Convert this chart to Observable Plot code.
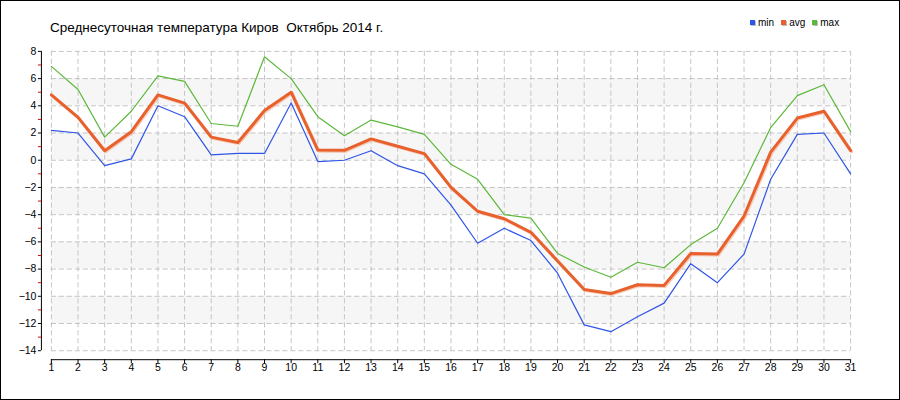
<!DOCTYPE html>
<html>
<head>
<meta charset="utf-8">
<script src="https://cdn.jsdelivr.net/npm/d3@7"></script>
<script src="https://cdn.jsdelivr.net/npm/@observablehq/plot@0.6"></script>
<style>
  html, body { margin: 0; padding: 0; background: #fff; }
  #frame { position: relative; width: 898px; height: 398px; border: 1px solid #000; overflow: hidden; background: #fff; }
  #title { position: absolute; left: 49px; top: 19px; font: 13.5px "Liberation Sans", Arial, sans-serif; color: #000; white-space: pre; }
  #legend { position: absolute; left: 749px; top: 16px; font: 10px "Liberation Sans", Arial, sans-serif; color: #000; display: flex; gap: 0; }
  #legend span.item { display: inline-flex; align-items: center; margin-right: 7px; }
  #legend span.sw { display: inline-block; width: 5px; height: 5px; margin-right: 3px; box-shadow: 1px 1px 0 #bbb; }
  #chart { position: absolute; left: 0; top: 0; }
</style>
</head>
<body>
<div id="frame">
  <div id="chart"></div>
  <div id="title"></div>
  <div id="legend"></div>
</div>
<script>
const titleText = "Среднесуточная температура Киров  Октябрь 2014 г.";
const days = [1,2,3,4,5,6,7,8,9,10,11,12,13,14,15,16,17,18,19,20,21,22,23,24,25,26,27,28,29,30,31];
const minT = [2.2,2.0,-0.4,0.1,4.0,3.2,0.4,0.5,0.5,4.2,-0.1,0.0,0.7,-0.4,-1.0,-3.3,-6.1,-5.0,-5.9,-8.3,-12.1,-12.6,-11.5,-10.5,-7.6,-9.0,-6.9,-1.4,1.9,2.0,-1.0];
const avgT = [4.8,3.15,0.7,2.1,4.8,4.2,1.7,1.3,3.65,5.0,0.75,0.73,1.57,1.03,0.49,-2.0,-3.75,-4.3,-5.3,-7.4,-9.5,-9.8,-9.15,-9.2,-6.85,-6.9,-4.1,0.6,3.1,3.6,0.7];
const maxT = [6.9,5.2,1.7,3.6,6.2,5.8,2.7,2.5,7.6,6.0,3.2,1.8,2.95,2.45,1.9,-0.3,-1.4,-4.0,-4.25,-6.85,-7.85,-8.6,-7.5,-7.9,-6.2,-5.0,-1.65,2.4,4.75,5.55,2.1];
const yTicks = [8,6,4,2,0,-2,-4,-6,-8,-10,-12,-14];
const yMinorTicks = [7,5,3,1,-1,-3,-5,-7,-9,-11,-13];
const bandLows = [4,0,-4,-8,-12];
const seriesNames = ["min","avg","max"];
const seriesColors = ["#2f55e6","#e8602c","#5cb83a"];

const data = days.map((d, i) => ({day: d, min: minT[i], avg: avgT[i], max: maxT[i]}));
const dayFirst = days[0], dayLast = days[days.length - 1];

document.getElementById("title").textContent = titleText;
const legend = document.getElementById("legend");
seriesNames.forEach((n, i) => {
  const it = document.createElement("span"); it.className = "item";
  const sw = document.createElement("span"); sw.className = "sw"; sw.style.background = seriesColors[i];
  it.appendChild(sw); it.appendChild(document.createTextNode(n));
  legend.appendChild(it);
});

const chart = Plot.plot({
  width: 900, height: 400,
  marginLeft: 50, marginRight: 49, marginTop: 50, marginBottom: 50,
  x: {domain: [dayFirst, dayLast], axis: null, label: null},
  y: {domain: [yTicks[yTicks.length - 1], yTicks[0]], axis: null, label: null},
  style: {fontFamily: "'Liberation Sans', Arial, sans-serif", fontSize: "10.5px", background: "transparent", color: "#000"},
  marks: [
    Plot.rect(bandLows, {x1: () => dayFirst, x2: () => dayLast, y1: d => d, y2: d => d + 2, fill: "#f6f6f6"}),
    Plot.gridY(yTicks, {stroke: "#c4c4c4", strokeOpacity: 1, strokeDasharray: "5,3"}),
    Plot.gridX(days, {stroke: "#c4c4c4", strokeOpacity: 1, strokeDasharray: "5,3"}),
    Plot.ruleX([dayFirst], {y1: yTicks[yTicks.length - 1], y2: yTicks[0], dx: -10, stroke: "#000"}),
    Plot.axisY(yTicks, {tickSize: 3, tickPadding: 2, dx: -10, stroke: "#000", fill: "#000", label: null}),
    Plot.axisY(yMinorTicks, {tickSize: 3, dx: -10, stroke: "#e00000", tickFormat: () => "", label: null}),
    Plot.ruleY([yTicks[yTicks.length - 1]], {x1: dayFirst, x2: dayLast, dy: 9, stroke: "#000"}),
    Plot.axisX(days, {tickSize: 4, tickPadding: 0, dy: 9, stroke: "#000", fill: "#000", label: null}),
    Plot.line(data, {x: "day", y: "max", stroke: seriesColors[2], strokeWidth: 1.2}),
    Plot.line(data, {x: "day", y: "min", stroke: seriesColors[0], strokeWidth: 1.2}),
    Plot.line(data, {x: "day", y: "avg", stroke: "#f3b9a0", strokeWidth: 3.2, dx: 1, dy: 1, strokeOpacity: 0.7}),
    Plot.line(data, {x: "day", y: "avg", stroke: seriesColors[1], strokeWidth: 3})
  ]
});
document.getElementById("chart").appendChild(chart);
</script>
</body>
</html>
